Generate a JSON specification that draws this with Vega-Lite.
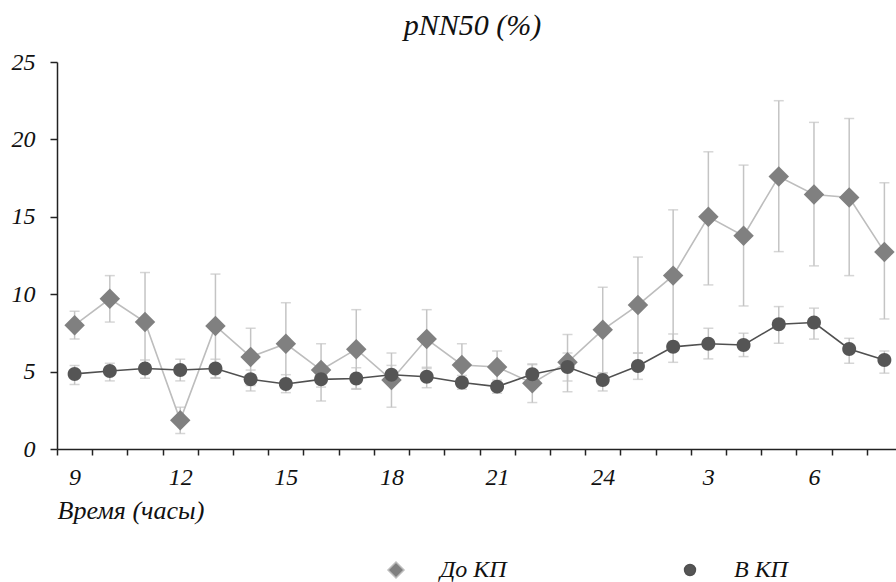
{
  "$schema": "https://vega.github.io/schema/vega-lite/v6.json",
  "autosize": "none",
  "padding": {"left": 57, "top": 62, "right": 0, "bottom": 133},
  "width": 845,
  "height": 387,
  "background": "white",
  "title": {"text": "pNN50 (%)", "font": "Liberation Serif, serif", "fontStyle": "italic", "fontWeight": "normal", "fontSize": 30, "color": "#111", "dx": -7, "offset": 9},
  "data": {"values": [
    {"series": "До КП", "hour": "9", "v": 8.0, "lo": 7.1, "hi": 8.9},
    {"series": "До КП", "hour": "10", "v": 9.7, "lo": 8.2, "hi": 11.2},
    {"series": "До КП", "hour": "11", "v": 8.2, "lo": 5.0, "hi": 11.4},
    {"series": "До КП", "hour": "12", "v": 1.85, "lo": 1.0, "hi": 2.7},
    {"series": "До КП", "hour": "13", "v": 7.95, "lo": 4.6, "hi": 11.3},
    {"series": "До КП", "hour": "14", "v": 5.95, "lo": 4.1, "hi": 7.8},
    {"series": "До КП", "hour": "15", "v": 6.8, "lo": 4.15, "hi": 9.45},
    {"series": "До КП", "hour": "16", "v": 5.1, "lo": 3.1, "hi": 6.8},
    {"series": "До КП", "hour": "17", "v": 6.45, "lo": 3.86, "hi": 9.0},
    {"series": "До КП", "hour": "18", "v": 4.46, "lo": 2.7, "hi": 6.2},
    {"series": "До КП", "hour": "19", "v": 7.1, "lo": 5.2, "hi": 9.0},
    {"series": "До КП", "hour": "20", "v": 5.43, "lo": 4.05, "hi": 6.8},
    {"series": "До КП", "hour": "21", "v": 5.3, "lo": 4.27, "hi": 6.33},
    {"series": "До КП", "hour": "22", "v": 4.25, "lo": 3.0, "hi": 5.45},
    {"series": "До КП", "hour": "23", "v": 5.6, "lo": 3.7, "hi": 7.4},
    {"series": "До КП", "hour": "24", "v": 7.7, "lo": 4.9, "hi": 10.45},
    {"series": "До КП", "hour": "1", "v": 9.3, "lo": 6.2, "hi": 12.4},
    {"series": "До КП", "hour": "2", "v": 11.2, "lo": 6.95, "hi": 15.45},
    {"series": "До КП", "hour": "3", "v": 15.0, "lo": 10.6, "hi": 19.2},
    {"series": "До КП", "hour": "4", "v": 13.77, "lo": 9.24, "hi": 18.34},
    {"series": "До КП", "hour": "5", "v": 17.6, "lo": 12.75, "hi": 22.5},
    {"series": "До КП", "hour": "6", "v": 16.44, "lo": 11.83, "hi": 21.1},
    {"series": "До КП", "hour": "7", "v": 16.25, "lo": 11.2, "hi": 21.35},
    {"series": "До КП", "hour": "8", "v": 12.73, "lo": 8.4, "hi": 17.2},
    {"series": "В КП", "hour": "9", "v": 4.85, "lo": 4.16, "hi": 5.4},
    {"series": "В КП", "hour": "10", "v": 5.04, "lo": 4.4, "hi": 5.54},
    {"series": "В КП", "hour": "11", "v": 5.2, "lo": 4.57, "hi": 5.75},
    {"series": "В КП", "hour": "12", "v": 5.1, "lo": 4.4, "hi": 5.8},
    {"series": "В КП", "hour": "13", "v": 5.2, "lo": 4.57, "hi": 5.8},
    {"series": "В КП", "hour": "14", "v": 4.5, "lo": 3.75, "hi": 5.1},
    {"series": "В КП", "hour": "15", "v": 4.2, "lo": 3.64, "hi": 4.8},
    {"series": "В КП", "hour": "16", "v": 4.5, "lo": 4.0, "hi": 5.0},
    {"series": "В КП", "hour": "17", "v": 4.55, "lo": 3.9, "hi": 5.25},
    {"series": "В КП", "hour": "18", "v": 4.8, "lo": 4.2, "hi": 5.4},
    {"series": "В КП", "hour": "19", "v": 4.67, "lo": 3.96, "hi": 5.28},
    {"series": "В КП", "hour": "20", "v": 4.3, "lo": 3.86, "hi": 4.75},
    {"series": "В КП", "hour": "21", "v": 4.03, "lo": 3.6, "hi": 4.45},
    {"series": "В КП", "hour": "22", "v": 4.83, "lo": 4.15, "hi": 5.5},
    {"series": "В КП", "hour": "23", "v": 5.3, "lo": 4.4, "hi": 6.2},
    {"series": "В КП", "hour": "24", "v": 4.46, "lo": 3.75, "hi": 4.93},
    {"series": "В КП", "hour": "1", "v": 5.36, "lo": 4.5, "hi": 6.2},
    {"series": "В КП", "hour": "2", "v": 6.6, "lo": 5.6, "hi": 7.43},
    {"series": "В КП", "hour": "3", "v": 6.8, "lo": 5.82, "hi": 7.8},
    {"series": "В КП", "hour": "4", "v": 6.72, "lo": 5.97, "hi": 7.48},
    {"series": "В КП", "hour": "5", "v": 8.06, "lo": 6.83, "hi": 9.2},
    {"series": "В КП", "hour": "6", "v": 8.17, "lo": 7.1, "hi": 9.1},
    {"series": "В КП", "hour": "7", "v": 6.46, "lo": 5.54, "hi": 7.15},
    {"series": "В КП", "hour": "8", "v": 5.75, "lo": 4.9, "hi": 6.33}
  ]},
  "encoding": {
    "x": {
      "field": "hour", "type": "ordinal",
      "scale": {"type": "band", "paddingInner": 0, "paddingOuter": 0, "domain": ["9","10","11","12","13","14","15","16","17","18","19","20","21","22","23","24","1","2","3","4","5","6","7","8"]},
      "axis": {
        "tickBand": "extent", "labelAngle": 0, "labelOverlap": false,
        "labelExpr": "indexof(['9','12','15','18','21','24','3','6'], datum.label) >= 0 ? datum.label : ''",
        "tickSize": 6, "labelPadding": 10,
        "title": "Время (часы)", "titleFont": "Liberation Serif, serif", "titleFontStyle": "italic", "titleFontWeight": "normal", "titleFontSize": 26, "titleColor": "#111",
        "titleAnchor": "start", "titleAlign": "left", "titlePadding": 8
      }
    }
  },
  "layer": [
    {
      "mark": {"type": "errorbar", "ticks": {"color": "#c4c4c4", "size": 10, "thickness": 1.5}, "rule": {"color": "#c4c4c4", "strokeWidth": 1.5}},
      "encoding": {
        "y": {"field": "lo", "type": "quantitative", "scale": {"domain": [0, 25], "nice": false}, "axis": {"values": [0,5,10,15,20,25], "tickSize": 7, "labelPadding": 15, "title": null}},
        "y2": {"field": "hi"}
      }
    },
    {
      "mark": {"type": "line", "strokeWidth": 1.6},
      "encoding": {
        "y": {"field": "v", "type": "quantitative"},
        "stroke": {"field": "series", "type": "nominal", "scale": {"domain": ["До КП", "В КП"], "range": ["#bdbdbd", "#505050"]}}
      }
    },
    {
      "mark": {"type": "point", "filled": true, "opacity": 1, "size": 420},
      "encoding": {
        "y": {"field": "v", "type": "quantitative"},
        "color": {"field": "series", "type": "nominal", "scale": {"domain": ["До КП", "В КП"], "range": ["#808080", "#555555"]}},
        "shape": {"field": "series", "type": "nominal", "scale": {"domain": ["До КП", "В КП"], "range": ["M-1,0L0,-1L1,0L0,1Z", "M-0.68,0A0.68,0.68,0,1,0,0.68,0A0.68,0.68,0,1,0,-0.68,0Z"]}}
      }
    }
  ],
  "config": {
    "view": {"stroke": null},
    "axis": {"domainColor": "#222", "domainWidth": 1.5, "tickColor": "#222", "tickWidth": 1.5, "labelFont": "Liberation Serif, serif", "labelFontStyle": "italic", "labelFontSize": 24, "labelColor": "#111", "grid": false},
    "legend": {
      "orient": "none", "legendX": 327, "legendY": 496, "direction": "horizontal", "title": null,
      "labelFont": "Liberation Serif, serif", "labelFontStyle": "italic", "labelFontSize": 24, "labelColor": "#111",
      "symbolSize": 256, "labelOffset": 32, "columnPadding": 171,
      "symbolStrokeWidth": 1.5
    }
  }
}
